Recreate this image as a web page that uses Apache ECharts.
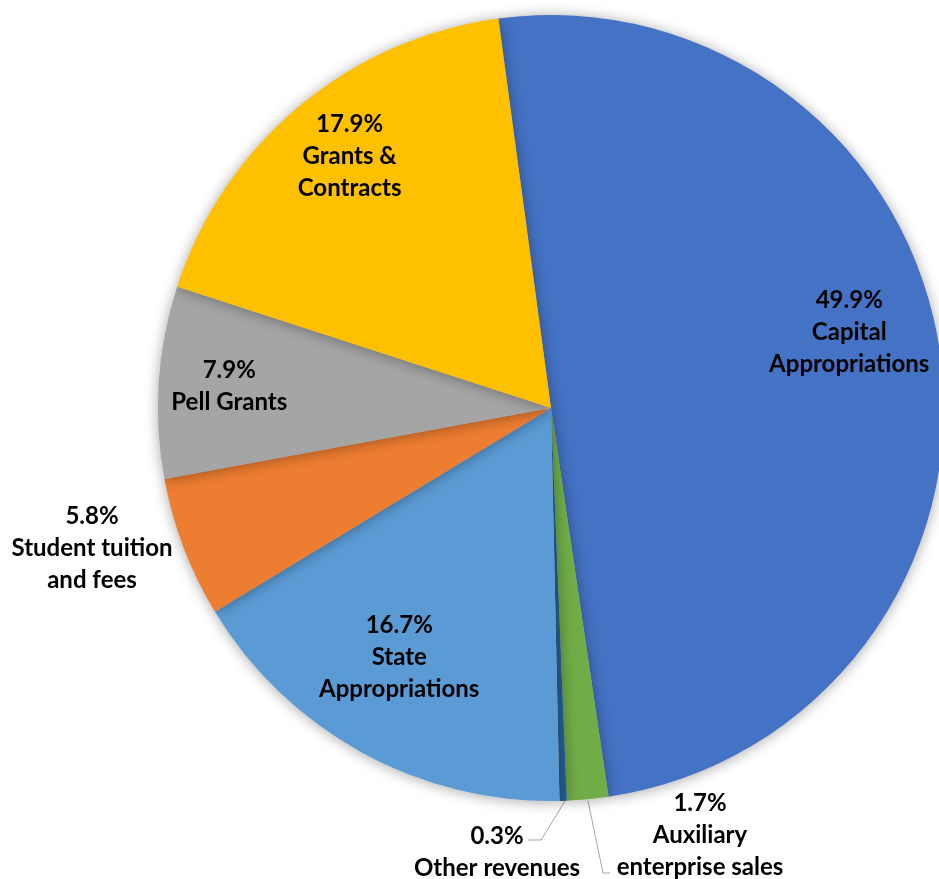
<!DOCTYPE html>
<html><head><meta charset="utf-8">
<script src="https://cdn.jsdelivr.net/npm/echarts@6/dist/echarts.min.js"></script>
<style>html,body{margin:0;padding:0;background:#fff}#c{width:939px;height:879px}</style>
</head><body><div id="c"></div>
<script>
const categories = ['Capital\nAppropriations','Auxiliary\nenterprise sales','Other revenues','State\nAppropriations','Student tuition\nand fees','Pell Grants','Grants &\nContracts'];
const values = [49.9, 1.7, 0.3, 16.7, 5.8, 7.9, 17.9];
const colors = ['#4472C4','#70AD47','#255E91','#5B9BD5','#ED7D31','#A5A5A5','#FFC000'];
const insideIdx = [0,3,5,6];

const font = {fontFamily:'Lato', fontWeight:'bold', fontSize:24, color:'#000', lineHeight:32, align:'center'};
const chart = echarts.init(document.getElementById('c'));
const center = [551, 408];
const R = 393;
const fmt = p => p.value.toFixed(1)+'%\n'+p.name;

const outData = categories.map((c,i)=>{
  const d = {name:c, value:values[i], itemStyle:{color:colors[i]}};
  if (i===1 || i===2) {
    d.label = Object.assign({show:true, position:'outside', formatter: fmt}, font);
    d.labelLine = {show:true, length:40, length2:14, lineStyle:{color:'#A6A6A6', width:1}};
  } else if (i===4) {
    d.label = Object.assign({show:true, position:'outside', formatter: fmt}, font);
    d.labelLine = {show:false};
  } else {
    d.label = {show:false};
    d.labelLine = {show:false};
  }
  return d;
});
const labelData = categories.map((c,i)=>({
  name:c, value:values[i],
  label: insideIdx.includes(i) ? Object.assign({show:true, position:'inside', formatter: fmt}, font) : {show:false}
}));

// small label nudges (pixels) for the inside labels
const insideNudge = {0:[-16,-31], 3:[1,-29], 5:[-5,-1], 6:[2,-8]};

chart.setOption({
  animation:false,
  series:[
    {type:'pie', center:center, radius:[0,R], startAngle:97.7, clockwise:true, avoidLabelOverlap:false,
     itemStyle:{borderWidth:0, shadowBlur:14, shadowColor:'rgba(0,0,0,0.35)', shadowOffsetY:1},
     silent:true, data: outData,
     labelLayout: function(p){
       if (p.dataIndex===1) return {x:700, y:835, align:'center', verticalAlign:'middle',
          labelLinePoints:[[588,801],[603,873],[610,873]]};
       if (p.dataIndex===2) return {x:497, y:852, align:'center', verticalAlign:'middle',
          labelLinePoints:[[565,801],[541,840],[528,840]]};
       if (p.dataIndex===4) return {x:92, y:548, align:'center', verticalAlign:'middle'};
     }
    },
    {type:'pie', center:center, radius:[R*0.6, R], startAngle:97.7, clockwise:true, silent:true,
     itemStyle:{color:'transparent', borderWidth:0}, labelLine:{show:false}, data: labelData,
     labelLayout: function(p){
       const n = insideNudge[p.dataIndex];
       if (n) return {dx:n[0], dy:n[1]};
     }
    }
  ]
});
</script></body></html>
